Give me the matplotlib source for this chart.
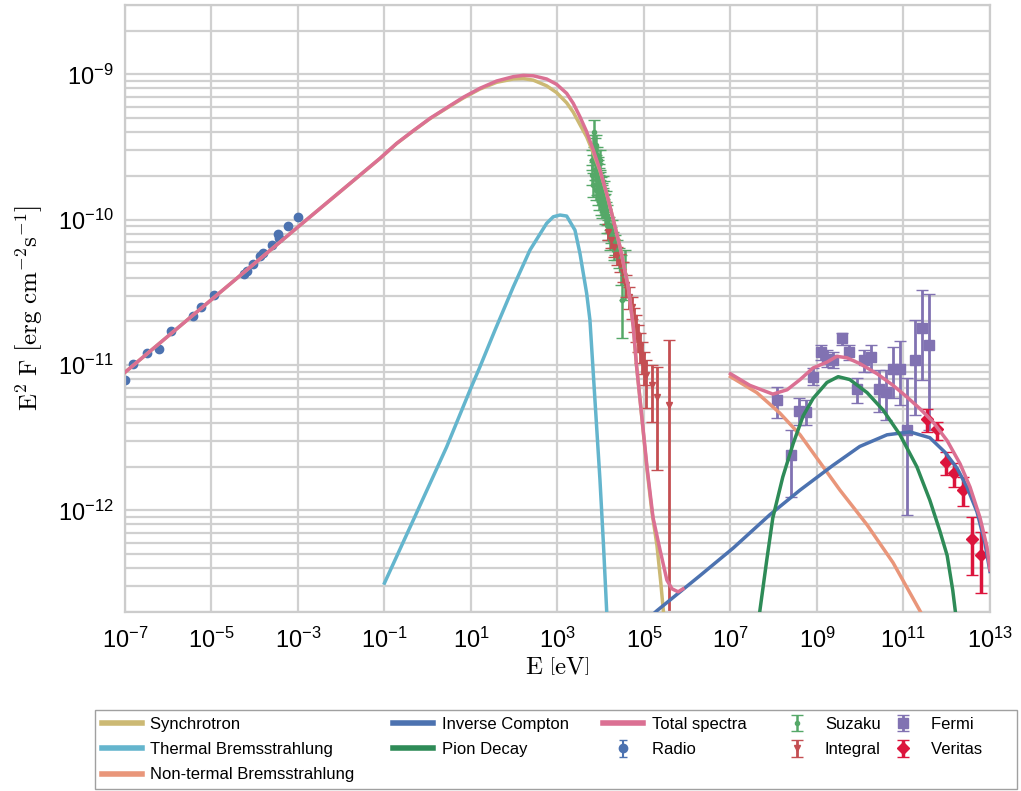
import numpy as np
import matplotlib
matplotlib.use("Agg")
import matplotlib.pyplot as plt
from matplotlib.ticker import FixedLocator, FuncFormatter, LogLocator, NullFormatter

plt.rcParams["font.family"] = ["Liberation Sans", "DejaVu Sans"]
plt.rcParams["mathtext.fontset"] = "cm"

# ---- model components: log10(E / eV) and log10(E^2 F / erg cm^-2 s^-1) ----
sync_logE = [-7.00, -5.00, -3.00, -1.104, -0.718, -0.334, 0.052, 0.438, 0.822, 1.208, 1.594,
             1.978, 2.209, 2.441, 2.750, 2.982, 3.213, 3.366, 3.520, 3.675, 3.828, 3.983,
             4.137, 4.290, 4.445, 4.637, 4.753, 4.83, 4.91, 5.07, 5.18, 5.30, 5.39, 5.46, 5.50]
sync_logF = [-11.05, -10.55, -10.05, -9.579, -9.476, -9.389, -9.305, -9.233, -9.163, -9.101,
             -9.055, -9.032, -9.029, -9.040, -9.079, -9.126, -9.196, -9.261, -9.346, -9.430,
             -9.540, -9.662, -9.820, -9.998, -10.186, -10.462, -10.738, -11.01, -11.24, -11.72,
             -12.00, -12.24, -12.50, -12.73, -12.85]

therm_logE = [-1.00, -0.334, 0.438, 0.977, 1.208, 1.555, 1.979, 2.364, 2.750, 2.903, 3.058,
              3.213, 3.405, 3.520, 3.675, 3.751, 3.867, 3.983, 4.064, 4.137]
therm_logF = [-12.50, -12.067, -11.563, -11.173, -11.012, -10.760, -10.462, -10.209, -10.025,
              -9.980, -9.968, -9.975, -10.072, -10.232, -10.507, -10.691, -11.242, -11.792,
              -12.239, -12.687]

nth_logE = [7.00, 7.61, 8.14, 8.61, 9.07, 9.53, 10.16, 10.76, 11.38, 11.50]
nth_logF = [-11.08, -11.19, -11.33, -11.48, -11.67, -11.86, -12.10, -12.36, -12.69, -12.76]

ic_logE = [5.00, 5.30, 6.29, 7.06, 7.91, 8.61, 9.37, 9.99, 10.62, 11.15, 11.61, 11.96,
           12.24, 12.47, 12.70, 12.88, 13.00]
ic_logF = [-12.77, -12.69, -12.45, -12.26, -12.03, -11.86, -11.69, -11.56, -11.48, -11.46,
           -11.50, -11.60, -11.71, -11.84, -12.01, -12.22, -12.42]

pion_logE = [7.61, 7.68, 7.84, 7.98, 8.21, 8.45, 8.68, 8.91, 9.23, 9.49, 9.76, 10.16,
             10.53, 10.92, 11.31, 11.61, 11.84, 12.01, 12.14, 12.21]
pion_logF = [-12.89, -12.69, -12.34, -12.05, -11.77, -11.54, -11.35, -11.23, -11.12, -11.08,
             -11.10, -11.19, -11.31, -11.48, -11.70, -11.93, -12.14, -12.31, -12.55, -12.72]

# total spectrum, low-energy and high-energy branches
tot_lo_logE = [-7.00, -5.00, -3.00, -1.104, -0.718, -0.334, 0.052, 0.438, 0.822, 1.208, 1.594,
               1.978, 2.209, 2.441, 2.750, 2.982, 3.213, 3.366, 3.520, 3.675, 3.828, 3.983,
               4.137, 4.290, 4.445, 4.637, 4.753, 4.83, 4.91, 5.07, 5.21, 5.37, 5.53, 5.65,
               5.79, 5.90]
tot_lo_logF = [-11.05, -10.55, -10.05, -9.578, -9.475, -9.388, -9.303, -9.230, -9.158, -9.096,
               -9.046, -9.016, -9.007, -9.010, -9.032, -9.069, -9.131, -9.200, -9.292, -9.395,
               -9.521, -9.659, -9.819, -9.998, -10.186, -10.462, -10.738, -11.01, -11.24,
               -11.70, -12.05, -12.27, -12.48, -12.54, -12.56, -12.54]
tot_hi_logE = [7.00, 7.45, 7.98, 8.31, 8.61, 8.91, 9.23, 9.46, 9.69, 9.99, 10.39, 10.76,
               11.08, 11.38, 11.68, 12.01, 12.31, 12.54, 12.77, 12.93, 13.00]
tot_hi_logF = [-11.06, -11.14, -11.20, -11.17, -11.10, -11.02, -10.98, -10.94, -10.95, -10.99,
               -11.06, -11.14, -11.22, -11.30, -11.39, -11.52, -11.68, -11.84, -12.05, -12.25,
               -12.41]

# ---- observations: log10 E, log10 E^2F, and log10 of lower / upper error limits ----
radio_logE = [-7.00, -6.82, -6.49, -6.21, -5.94, -5.43, -5.24, -4.94, -4.25, -4.18, -4.04,
              -3.88, -3.81, -3.60, -3.46, -3.44, -3.23, -3.00]
radio_logF = [-11.104, -10.994, -10.918, -10.891, -10.767, -10.663, -10.601, -10.519, -10.374,
              -10.354, -10.305, -10.250, -10.230, -10.175, -10.099, -10.127, -10.044, -9.982]

suz_logE = [3.84, 3.87, 3.89, 3.90, 3.92, 3.93, 3.94, 3.95, 3.96, 3.97, 3.98, 3.99, 4.01,
            4.02, 4.03, 4.05, 4.06, 4.07, 4.10, 4.12, 4.14, 4.19, 4.24, 4.28, 4.33, 4.38,
            4.42, 4.47, 4.49, 4.56,
            3.80, 3.81, 3.82, 3.83, 3.86, 3.88, 3.89, 3.92, 3.94, 3.96, 3.98, 4.01, 4.03,
            4.05, 4.07, 4.10, 4.12, 4.14, 4.17, 4.21, 4.26, 4.31]
suz_logF = [-9.397, -9.521, -9.487, -9.590, -9.555, -9.659, -9.624, -9.714, -9.672, -9.762,
            -9.727, -9.796, -9.769, -9.831, -9.810, -9.865, -9.838, -9.899, -9.886, -9.934,
            -9.968, -10.037, -10.106, -10.140, -10.175, -10.209, -10.264, -10.347, -10.553,
            -10.381,
            -9.590, -9.693, -9.487, -9.762, -9.659, -9.796, -9.693, -9.762, -9.831, -9.865,
            -9.590, -9.899, -9.934, -9.762, -9.796, -9.968, -9.865, -10.037, -10.072, -10.140,
            -10.072, -10.209]
suz_logLo = [-9.500, -9.604, -9.555, -9.659, -9.610, -9.727, -9.679, -9.782, -9.727, -9.831,
             -9.782, -9.865, -9.831, -9.899, -9.872, -9.934, -9.893, -9.968, -9.948, -9.989,
             -10.037, -10.092, -10.161, -10.195, -10.244, -10.278, -10.333, -10.450, -10.815,
             -10.553,
             -9.659, -9.762, -9.556, -9.845, -9.728, -9.865, -9.762, -9.831, -9.900, -9.934,
             -9.659, -9.968, -9.989, -9.824, -9.858, -10.030, -9.927, -10.092, -10.141,
             -10.209, -10.141, -10.278]
suz_logHi = [-9.314, -9.438, -9.418, -9.521, -9.500, -9.590, -9.569, -9.645, -9.617, -9.693,
             -9.672, -9.727, -9.707, -9.762, -9.748, -9.796, -9.782, -9.831, -9.824, -9.879,
             -9.899, -9.982, -10.051, -10.085, -10.106, -10.140, -10.195, -10.244, -10.292,
             -10.209,
             -9.521, -9.624, -9.418, -9.679, -9.590, -9.727, -9.624, -9.693, -9.762, -9.796,
             -9.521, -9.830, -9.879, -9.700, -9.734, -9.906, -9.803, -9.982, -10.003, -10.071,
             -10.003, -10.140]

int_logE = [4.17, 4.24, 4.31, 4.38, 4.45, 4.51, 4.58, 4.65, 4.72, 4.77, 4.82, 4.86, 4.91,
            4.95, 5.00, 5.05, 5.18, 5.30, 5.58]
int_logF = [-10.085, -10.140, -10.189, -10.244, -10.292, -10.361, -10.450, -10.533, -10.601,
            -10.677, -10.739, -10.808, -10.877, -10.939, -11.008, -11.069, -11.138, -11.221,
            -11.276]
int_logLo = [-10.140, -10.195, -10.257, -10.312, -10.361, -10.429, -10.533, -10.615, -10.684,
             -10.774, -10.842, -10.911, -10.987, -11.063, -11.138, -11.297, -11.393, -11.723,
             -12.756]
int_logHi = [-10.030, -10.085, -10.133, -10.189, -10.237, -10.292, -10.381, -10.464, -10.533,
             -10.608, -10.657, -10.725, -10.780, -10.842, -10.911, -10.966, -11.001, -11.014,
             -10.829]

fermi_logE = [8.08, 8.40, 8.58, 8.75, 8.91, 9.09, 9.23, 9.37, 9.58, 9.74, 9.93, 10.09,
              10.25, 10.43, 10.60, 10.76, 10.92, 11.08, 11.27, 11.43, 11.59]
fermi_logF = [-11.241, -11.620, -11.317, -11.324, -11.083, -10.911, -10.959, -10.966, -10.815,
              -10.911, -11.166, -10.966, -10.946, -11.166, -11.186, -11.028, -11.028, -11.448,
              -10.966, -10.746, -10.863]
fermi_logLo = [-11.365, -11.909, -11.414, -11.414, -11.138, -10.966, -11.014, -11.021, -10.863,
               -10.966, -11.262, -11.049, -11.049, -11.324, -11.379, -11.228, -11.276, -12.033,
               -11.345, -11.104, -11.448]
fermi_logHi = [-11.152, -11.448, -11.228, -11.242, -11.021, -10.863, -10.897, -10.911, -10.780,
               -10.863, -11.090, -10.897, -10.863, -11.035, -11.035, -10.877, -10.835, -11.090,
               -10.691, -10.485, -10.512]

ver_logE = [11.54, 11.77, 11.98, 12.17, 12.38, 12.58, 12.79]
ver_logF = [-11.372, -11.441, -11.668, -11.744, -11.861, -12.198, -12.308]
ver_logLo = [-11.462, -11.517, -11.758, -11.840, -11.971, -12.446, -12.570]
ver_logHi = [-11.303, -11.393, -11.599, -11.675, -11.772, -12.047, -12.150]


def p10(a):
    return np.power(10.0, np.asarray(a, dtype=float))


fig = plt.figure(figsize=(10.21, 7.91), dpi=100)
ax = fig.add_axes([0.1224, 0.2263, 0.8472, 0.7674])
ax.set_xscale("log")
ax.set_yscale("log")


def data_errorbar(logE, logF, logLo, logHi, **kw):
    F = p10(logF)
    if logLo is not None:
        yerr = [F - p10(logLo), p10(logHi) - F]
    else:
        yerr = [np.zeros_like(F), np.zeros_like(F)]
    return ax.errorbar(p10(logE), F, yerr=yerr, linestyle="none", zorder=2, **kw)


data_errorbar(radio_logE, radio_logF, None, None, fmt="o", color="#4C72B0", ms=6,
              capsize=3, elinewidth=1.5, label="Radio")
data_errorbar(suz_logE, suz_logF, suz_logLo, suz_logHi, fmt="o", color="#55A868", ms=3,
              capsize=4, elinewidth=1.8, capthick=1, label="Suzaku")
data_errorbar(int_logE, int_logF, int_logLo, int_logHi, fmt="v", color="#C44E52", ms=5,
              capsize=4, elinewidth=2, capthick=1, label="Integral")
data_errorbar(fermi_logE, fermi_logF, fermi_logLo, fermi_logHi, fmt="s", color="#8172B2",
              ms=7, capsize=4, elinewidth=2, capthick=1, label="Fermi")
data_errorbar(ver_logE, ver_logF, ver_logLo, ver_logHi, fmt="D", color="#DC143C", ms=6,
              capsize=4, elinewidth=2.5, capthick=1, label="Veritas")

lw = 2.5
ax.plot(p10(sync_logE), p10(sync_logF), color="#CCB974", lw=lw, zorder=3, label="Synchrotron")
ax.plot(p10(therm_logE), p10(therm_logF), color="#64B5CD", lw=lw, zorder=3,
        label="Thermal Bremsstrahlung")
ax.plot(p10(nth_logE), p10(nth_logF), color="#E9967A", lw=lw, zorder=3,
        label="Non-termal Bremsstrahlung")
ax.plot(p10(ic_logE), p10(ic_logF), color="#4C72B0", lw=lw, zorder=3, label="Inverse Compton")
ax.plot(p10(pion_logE), p10(pion_logF), color="#2E8B57", lw=lw, zorder=3, label="Pion Decay")
ax.plot(p10(tot_lo_logE), p10(tot_lo_logF), color="#DB7093", lw=lw, zorder=4,
        label="Total spectra")
ax.plot(p10(tot_hi_logE), p10(tot_hi_logF), color="#DB7093", lw=lw, zorder=4)

ax.set_xlim(1e-7, 1e13)
ax.set_ylim(2e-13, 3e-9)

ax.xaxis.set_major_locator(FixedLocator(p10(np.arange(-7, 14, 2))))
ax.xaxis.set_minor_locator(FixedLocator([]))
ax.yaxis.set_major_locator(LogLocator(base=10))
ax.yaxis.set_minor_locator(LogLocator(base=10, subs=np.arange(2, 10)))
ax.yaxis.set_minor_formatter(NullFormatter())


def pow_label(v, pos):
    k = int(round(np.log10(v)))
    return r"$\mathregular{10^{%d}}$" % k


ax.xaxis.set_major_formatter(FuncFormatter(pow_label))
ax.yaxis.set_major_formatter(FuncFormatter(pow_label))
ax.tick_params(axis="both", which="both", length=0, labelsize=17)
ax.tick_params(axis="x", pad=11)
ax.tick_params(axis="y", pad=8)

ax.set_axisbelow(True)
ax.grid(True, which="major", color="#d0d0d0", lw=1.6)
ax.grid(True, which="minor", axis="y", color="#d0d0d0", lw=1.6)
for s in ax.spines.values():
    s.set_color("#cccccc")
    s.set_linewidth(1.6)

ax.set_xlabel(r"$\mathrm{E\ \left[eV\right]}$", fontsize=18, labelpad=2)
ax.set_ylabel(r"$\mathrm{E^{2}\ F\ \left[erg\ cm^{-2}s^{-1}\right]}$", fontsize=18, labelpad=10)

# legend below the axes; trailing blanks widen columns so the five columns sit where wanted
col_pad = {"Synchrotron": 8, "Thermal Bremsstrahlung": 8, "Non-termal Bremsstrahlung": 8,
           "Inverse Compton": 7, "Pion Decay": 7, "Total spectra": 6, "Radio": 6,
           "Suzaku": 0, "Integral": 0, "Fermi": 6, "Veritas": 6}
handles, labels = ax.get_legend_handles_labels()
labels = [lab + " " * col_pad.get(lab, 0) for lab in labels]
leg = ax.legend(handles, labels, ncol=5, mode="expand", loc="upper left",
                bbox_to_anchor=(0.093, 0.1024, 0.903, 0.0), bbox_transform=fig.transFigure,
                borderaxespad=0.0, fontsize=12, frameon=True, fancybox=False,
                handlelength=2.4, handletextpad=0.5, labelspacing=0.62, borderpad=0.4)
leg.get_frame().set_edgecolor("#888888")
leg.get_frame().set_linewidth(1.0)
for h in leg.legend_handles:
    if isinstance(h, matplotlib.lines.Line2D):
        h.set_linewidth(4)

fig.savefig("out.png", dpi=100)
